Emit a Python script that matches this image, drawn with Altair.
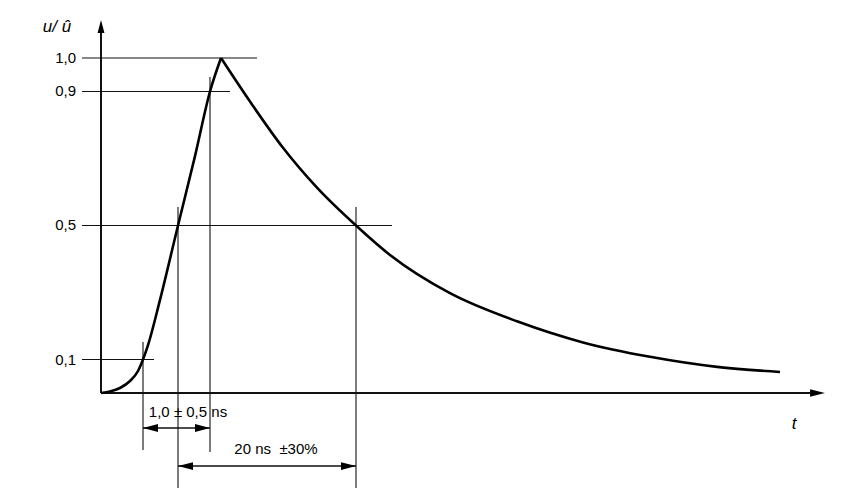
import altair as alt
import pandas as pd

# ---- waveform (t in drawing units from origin, u = u/û) ----
rise_t = [0, 9, 19, 29, 37, 42, 47, 59, 77, 94, 109, 120]
rise_u = [0, 0.0045, 0.0149, 0.0358, 0.0657, 0.1, 0.143, 0.278, 0.5, 0.707, 0.9, 1.0]
fall_t = [120, 149, 182, 216, 255, 289, 349, 416, 482, 549, 616, 679]
fall_u = [1.0, 0.87, 0.732, 0.613, 0.5, 0.412, 0.298, 0.214, 0.151, 0.108, 0.078, 0.0627]

# ---- reference levels and time marks ----
level_u = [1.0, 0.9, 0.5, 0.1]
level_lbl = ["1,0", "0,9", "0,5", "0,1"]
level_t_end = [156, 129, 291, 53]
mark_t = [42, 77, 109, 255]
mark_u_top = [0.152, 0.555, 0.943, 0.555]
mark_u_bot = [-0.17, -0.30, -0.176, -0.30]

# ---- dimension lines ----
dim_t1 = [42, 77]
dim_t2 = [109, 255]
dim_u = [-0.1045, -0.218]
dim_txt = ["1,0 \u00b1 0,5 ns", "20 ns\u00a0\u00a0\u00b130%"]
dim_txt_t = [87, 175]
dim_txt_u = [-0.0716, -0.182]

# axis extents
x_axis_end = 710
y_axis_end = 1.078

xs = alt.Scale(domain=[-93, 759], nice=False, zero=False)
ys = alt.Scale(domain=[-0.28358, 1.14925], nice=False, zero=False)

curve = pd.DataFrame(
    [{"t": t, "u": u, "seg": "rise", "o": i} for i, (t, u) in enumerate(zip(rise_t, rise_u))]
    + [{"t": t, "u": u, "seg": "fall", "o": i} for i, (t, u) in enumerate(zip(fall_t, fall_u))]
)

thin = []
for u, te in zip(level_u, level_t_end):
    thin.append({"x1": -19, "x2": te, "y1": u, "y2": u})
for t, a, b in zip(mark_t, mark_u_top, mark_u_bot):
    thin.append({"x1": t, "x2": t, "y1": a, "y2": b})
thin = pd.DataFrame(thin)

axes = pd.DataFrame([
    {"x1": 0, "x2": 0, "y1": 0, "y2": y_axis_end},
    {"x1": 0, "x2": x_axis_end, "y1": 0, "y2": 0},
])

dims = pd.DataFrame([
    {"x1": a, "x2": b, "y1": u, "y2": u} for a, b, u in zip(dim_t1, dim_t2, dim_u)
])

heads = pd.DataFrame([
    {"t": 0, "u": 1.094, "ang": 0, "s": 175},
    {"t": 716.5, "u": 0, "ang": 90, "s": 220},
    {"t": 49.5, "u": dim_u[0], "ang": 270, "s": 225},
    {"t": 101.5, "u": dim_u[0], "ang": 90, "s": 225},
    {"t": 84.5, "u": dim_u[1], "ang": 270, "s": 225},
    {"t": 247.5, "u": dim_u[1], "ang": 90, "s": 225},
])

ticks = pd.DataFrame({"t": [-25] * 4, "u": level_u, "lbl": level_lbl})
dimlbl = pd.DataFrame({"t": dim_txt_t, "u": dim_txt_u, "lbl": dim_txt})
ital = pd.DataFrame({"t": [-44, 693], "u": [1.0776, -0.1075], "lbl": ["u/ \u00fb", "t"]})

FONT = "Liberation Sans"

def seg_layer(df, width):
    return alt.Chart(df).mark_rule(color="#111", strokeWidth=width, clip=False).encode(
        x=alt.X("x1:Q", scale=xs, axis=None),
        x2="x2:Q",
        y=alt.Y("y1:Q", scale=ys, axis=None),
        y2="y2:Q",
    )

thin_l = seg_layer(thin, 1.1)
axes_l = seg_layer(axes, 2)
dims_l = seg_layer(dims, 1.5)

curve_l = alt.Chart(curve).mark_line(
    color="#000", strokeWidth=2.6, interpolate="monotone", clip=False
).encode(
    x=alt.X("t:Q", scale=xs, axis=None),
    y=alt.Y("u:Q", scale=ys, axis=None),
    detail="seg:N",
    order="o:Q",
)

heads_l = alt.Chart(heads).mark_point(
    shape="M0,-1L0.52,1L-0.52,1Z", filled=True, color="#000", opacity=1, strokeWidth=0
).encode(
    x=alt.X("t:Q", scale=xs, axis=None),
    y=alt.Y("u:Q", scale=ys, axis=None),
    angle=alt.Angle("ang:Q", scale=None),
    size=alt.Size("s:Q", scale=None),
)

ticks_l = alt.Chart(ticks).mark_text(
    align="right", baseline="middle", font=FONT, fontSize=15, color="#000"
).encode(
    x=alt.X("t:Q", scale=xs, axis=None),
    y=alt.Y("u:Q", scale=ys, axis=None),
    text="lbl:N",
)

dimlbl_l = alt.Chart(dimlbl).mark_text(
    align="center", baseline="alphabetic", font=FONT, fontSize=15, color="#000"
).encode(
    x=alt.X("t:Q", scale=xs, axis=None),
    y=alt.Y("u:Q", scale=ys, axis=None),
    text="lbl:N",
)

ital_l = alt.Chart(ital).mark_text(
    align="center", baseline="alphabetic", font=FONT, fontSize=17,
    fontStyle="italic", color="#000"
).encode(
    x=alt.X("t:Q", scale=xs, axis=None),
    y=alt.Y("u:Q", scale=ys, axis=None),
    text="lbl:N",
)

chart = alt.layer(
    thin_l, dims_l, axes_l, curve_l, heads_l, ticks_l, dimlbl_l, ital_l
).properties(
    width=852, height=480, padding=0,
    autosize=alt.AutoSizeParams(type="none"),
).configure(
    background="white",
    view=alt.ViewConfig(stroke="transparent", strokeWidth=0),
)

chart.save("out.html", embed_options={"renderer": "svg", "actions": False})
